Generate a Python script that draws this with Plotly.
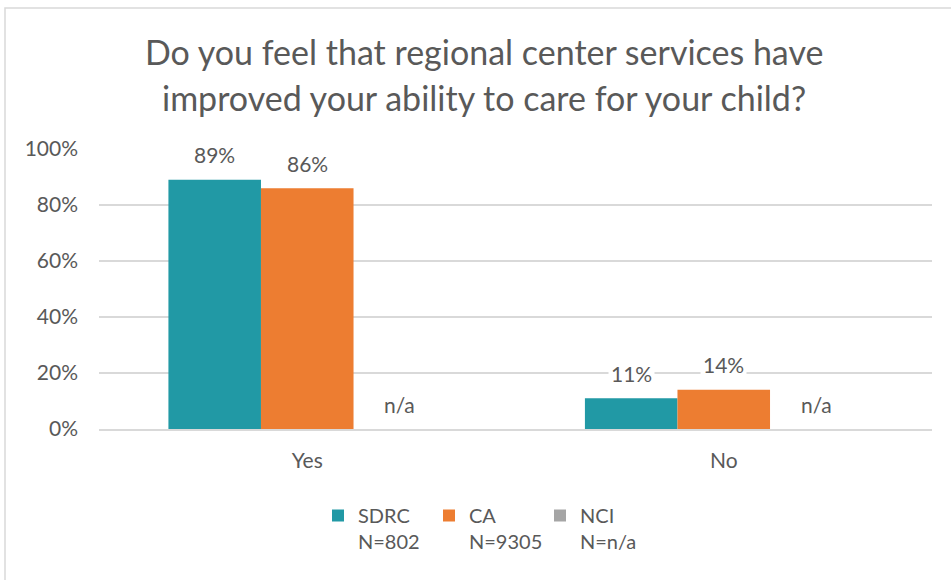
import plotly.graph_objects as go

# Survey responses (share of respondents)
categories = ["Yes", "No"]
series_names = ["SDRC", "CA", "NCI"]
sample_sizes = ["N=802", "N=9305", "N=n/a"]
sdrc_values = [0.89, 0.11]
ca_values = [0.86, 0.14]
nci_values = [None, None]  # not available

title_lines = [
    "Do you feel that regional center services have",
    "improved your ability to care for your child?",
]

colors = ["#2199A5", "#ED7D31", "#A5A5A5"]
text_color = "#595959"
grid_color = "#D9D9D9"
font_family = "Lato, Carlito, Calibri, sans-serif"

W, H = 951, 580
M_L, M_R, M_T, M_B = 99, 19, 149, 151
BARGAP = 1 / 3

plot_w = W - M_L - M_R
plot_h = H - M_T - M_B


def px_x(p):
    """Pixel column -> plot-area paper coordinate."""
    return (p - M_L) / plot_w


def px_y(p):
    """Pixel row -> plot-area paper coordinate."""
    return (H - M_B - p) / plot_h


all_values = [sdrc_values, ca_values, nci_values]

fig = go.Figure()
for name, n_label, vals, col in zip(series_names, sample_sizes, all_values, colors):
    fig.add_trace(go.Bar(
        x=categories,
        y=[0 if v is None else v for v in vals],
        name=f"{name}<br>{n_label}",
        marker=dict(color=col, line=dict(width=0)),
        hoverinfo="skip",
    ))

# Data labels with white boxes so gridlines break behind them
n_series = len(all_values)
bar_w = (1 - BARGAP) / n_series
annotations = []
for si, vals in enumerate(all_values):
    offset = (si - (n_series - 1) / 2) * bar_w
    for ci, v in enumerate(vals):
        label = "n/a" if v is None else f"{v:.0%}"
        annotations.append(dict(
            x=ci + offset, y=0 if v is None else v,
            xref="x", yref="y",
            text=label, showarrow=False,
            yanchor="middle", yshift=25,
            bgcolor="white", borderpad=2,
            font=dict(family=font_family, size=21, color=text_color),
        ))

# Two-line chart title
for line, cy in zip(title_lines, [52, 97]):
    annotations.append(dict(
        x=px_x(484), y=px_y(cy), xref="paper", yref="paper",
        text=line, showarrow=False, xanchor="center", yanchor="middle",
        font=dict(family=font_family, size=34, color=text_color),
    ))

# Chart-area border
shapes = [dict(
    type="rect", xref="paper", yref="paper",
    x0=px_x(5), x1=px_x(960), y0=px_y(590), y1=px_y(8),
    line=dict(color="#D9D9D9", width=1.5), fillcolor="rgba(0,0,0,0)",
    layer="below",
)]

fig.update_layout(
    width=W, height=H,
    margin=dict(l=M_L, r=M_R, t=M_T, b=M_B, pad=0),
    paper_bgcolor="white", plot_bgcolor="white",
    barmode="group", bargap=BARGAP, bargroupgap=0,
    font=dict(family=font_family, color=text_color),
    annotations=annotations,
    shapes=shapes,
    showlegend=True,
    legend=dict(
        orientation="h", x=px_x(318), xanchor="left",
        y=px_y(496), yanchor="top", valign="top",
        font=dict(family=font_family, size=20, color=text_color),
        entrywidth=66, entrywidthmode="pixels",
        itemclick=False, itemdoubleclick=False,
        tracegroupgap=0, traceorder="normal",
    ),
)
fig.update_yaxes(
    range=[0, 1], dtick=0.2, tickformat=".0%",
    showgrid=True, gridcolor=grid_color, gridwidth=1.5,
    zeroline=False, showline=False,
    ticks="", ticklabelstandoff=20,
    tickfont=dict(family=font_family, size=21, color=text_color),
)
fig.update_xaxes(
    showline=True, linecolor=grid_color, linewidth=1.5,
    ticks="", ticklabelstandoff=12,
    tickfont=dict(family=font_family, size=21, color=text_color),
)

fig.write_html("out.html")
